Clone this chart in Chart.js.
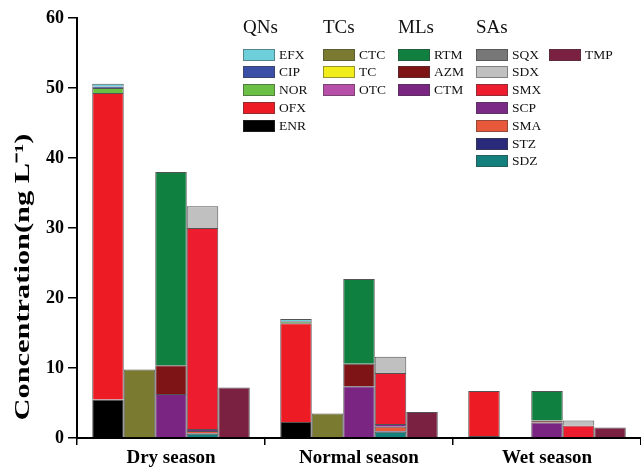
<!DOCTYPE html>
<html>
<head>
<meta charset="utf-8">
<script src="https://cdn.jsdelivr.net/npm/chart.js@4.4.1/dist/chart.umd.min.js"></script>
<style>
  html, body { margin: 0; padding: 0; background: #fff; }
  #wrap { position: relative; width: 641px; height: 471px; }
  #legend { position: absolute; left: 0; top: 0; font-family: "Liberation Serif", "Times New Roman", serif; color: #111; }
  .hdr { position: absolute; font-size: 19px; }
  .row { position: absolute; display: flex; align-items: center; font-size: 13.5px; height: 13px; }
  .sw { width: 32px; height: 12px; margin-right: 4px; box-sizing: border-box; border: 1px solid rgba(60,60,60,0.5); }
</style>
</head>
<body>
<div id="wrap">
  <canvas id="c" width="641" height="471"></canvas>
  <div id="legend"></div>
</div>
<script>
// Konsentrasi antibiotik per musim, ditumpuk per golongan
const SEASONS = ["Dry season", "Normal season", "Wet season"];
const Y_TICKS = [0, 10, 20, 30, 40, 50, 60];
const Y_TITLE = "Concentration(ng L\u207B\u00B9)";

// QNs
const ENR = [5.5, 2.3, 0.3];
const OFX = [43.8, 14.1, 6.4];
const NOR = [0.7, 0.2, 0];
const CIP = [0.2, 0.1, 0];
const EFX = [0.4, 0.3, 0];
// TCs
const CTC = [9.8, 3.5, 0];
const TC = [0, 0, 0];
const OTC = [0, 0, 0];
// MLs
const CTM = [6.3, 7.4, 2.2];
const AZM = [4.1, 3.2, 0.3];
const RTM = [27.6, 12.1, 4.2];
// SAs
const SDZ = [0.6, 0.9, 0];
const STZ = [0.1, 0.1, 0];
const SMA = [0.3, 0.6, 0];
const SCP = [0.3, 0.4, 0];
const SMX = [28.7, 7.3, 1.8];
const SDX = [3.1, 2.3, 0.7];
const SQX = [0, 0, 0];
// TMP
const TMP = [7.2, 3.7, 1.5];

const COLORS = {
  EFX: "#6ccfda", CIP: "#3a4fa5", NOR: "#6abf45", OFX: "#ed1c24", ENR: "#000000",
  CTC: "#7a7a30", TC: "#f2ec1a", OTC: "#b84fa8",
  RTM: "#0f8040", AZM: "#7f1416", CTM: "#7a2582",
  SQX: "#777777", SDX: "#c0c0c0", SMX: "#ed1c2e", SCP: "#7b2a86", SMA: "#e8583a", STZ: "#2a2a7a", SDZ: "#13807d",
  TMP: "#7a2040"
};

// urutan dari bawah ke atas
const SERIES = [
  ["ENR", ENR, "QNs"], ["OFX", OFX, "QNs"], ["NOR", NOR, "QNs"], ["CIP", CIP, "QNs"], ["EFX", EFX, "QNs"],
  ["CTC", CTC, "TCs"], ["TC", TC, "TCs"], ["OTC", OTC, "TCs"],
  ["CTM", CTM, "MLs"], ["AZM", AZM, "MLs"], ["RTM", RTM, "MLs"],
  ["SDZ", SDZ, "SAs"], ["STZ", STZ, "SAs"], ["SMA", SMA, "SAs"], ["SCP", SCP, "SAs"], ["SMX", SMX, "SAs"], ["SDX", SDX, "SAs"], ["SQX", SQX, "SAs"],
  ["TMP", TMP, "TMP"]
];

// legenda (atas ke bawah)
const LEGEND = [
  { title: "QNs", x: 243, items: ["EFX", "CIP", "NOR", "OFX", "ENR"] },
  { title: "TCs", x: 323, items: ["CTC", "TC", "OTC"] },
  { title: "MLs", x: 398, items: ["RTM", "AZM", "CTM"] },
  { title: "SAs", x: 476, items: ["SQX", "SDX", "SMX", "SCP", "SMA", "STZ", "SDZ"] },
  { title: "", x: 549, items: ["TMP"] }
];

const legendEl = document.getElementById("legend");
LEGEND.forEach((g) => {
  if (g.title) legendEl.insertAdjacentHTML("beforeend", `<div class="hdr" style="left:${g.x}px; top:16px">${g.title}</div>`);
  g.items.forEach((n, i) => {
    legendEl.insertAdjacentHTML("beforeend",
      `<div class="row" style="left:${g.x}px; top:${48 + i * 17.8}px"><div class="sw" style="background:${COLORS[n]}"></div>${n}</div>`);
  });
});

const FONT = "'Liberation Serif', 'Times New Roman', serif";

// judul sumbu Y: di aslinya teksnya memanjang (ditarik) ke arah vertikal
const yTitlePlugin = {
  id: "yTitle",
  afterDraw(chart) {
    const ctx = chart.ctx;
    ctx.save();
    ctx.font = "bold 21px " + FONT;
    const w = ctx.measureText(Y_TITLE).width;
    ctx.translate(24, 277);
    ctx.rotate(-Math.PI / 2);
    ctx.scale(287 / w, 1);
    ctx.fillStyle = "#000";
    ctx.textAlign = "center";
    ctx.textBaseline = "middle";
    ctx.fillText(Y_TITLE, 0, 0);
    ctx.restore();
  }
};

new Chart(document.getElementById("c"), {
  type: "bar",
  data: {
    labels: SEASONS,
    datasets: SERIES.map(([name, vals, stack]) => ({
      label: name, data: vals, stack: stack,
      backgroundColor: COLORS[name],
      borderColor: "rgba(25,25,25,0.75)", borderWidth: 1,
      categoryPercentage: 0.838, barPercentage: 1
    }))
  },
  plugins: [yTitlePlugin],
  options: {
    responsive: false, animation: false,
    layout: { padding: { top: 18, right: 0, left: 0, bottom: 0 } },
    plugins: { legend: { display: false }, tooltip: { enabled: false } },
    scales: {
      x: {
        stacked: true,
        grid: { drawOnChartArea: false, drawTicks: true, tickLength: 7, color: "#000", lineWidth: 1.5 },
        border: { display: true, color: "#000", width: 2 },
        ticks: { color: "#000", padding: 2, font: { family: FONT, size: 19, weight: "bold" } },
        afterFit: (s) => { s.height = 33; }
      },
      y: {
        stacked: true, min: 0, max: 60,
        afterBuildTicks: (s) => { s.ticks = Y_TICKS.map((v) => ({ value: v })); },
        grid: { drawOnChartArea: false, drawTicks: true, tickLength: 9, color: "#000", lineWidth: 1.5 },
        border: { display: true, color: "#000", width: 2 },
        ticks: { color: "#000", padding: 4, font: { family: FONT, size: 18, weight: "bold" } },
        afterFit: (s) => { s.width = 77; }
      }
    }
  }
});
</script>
</body>
</html>
